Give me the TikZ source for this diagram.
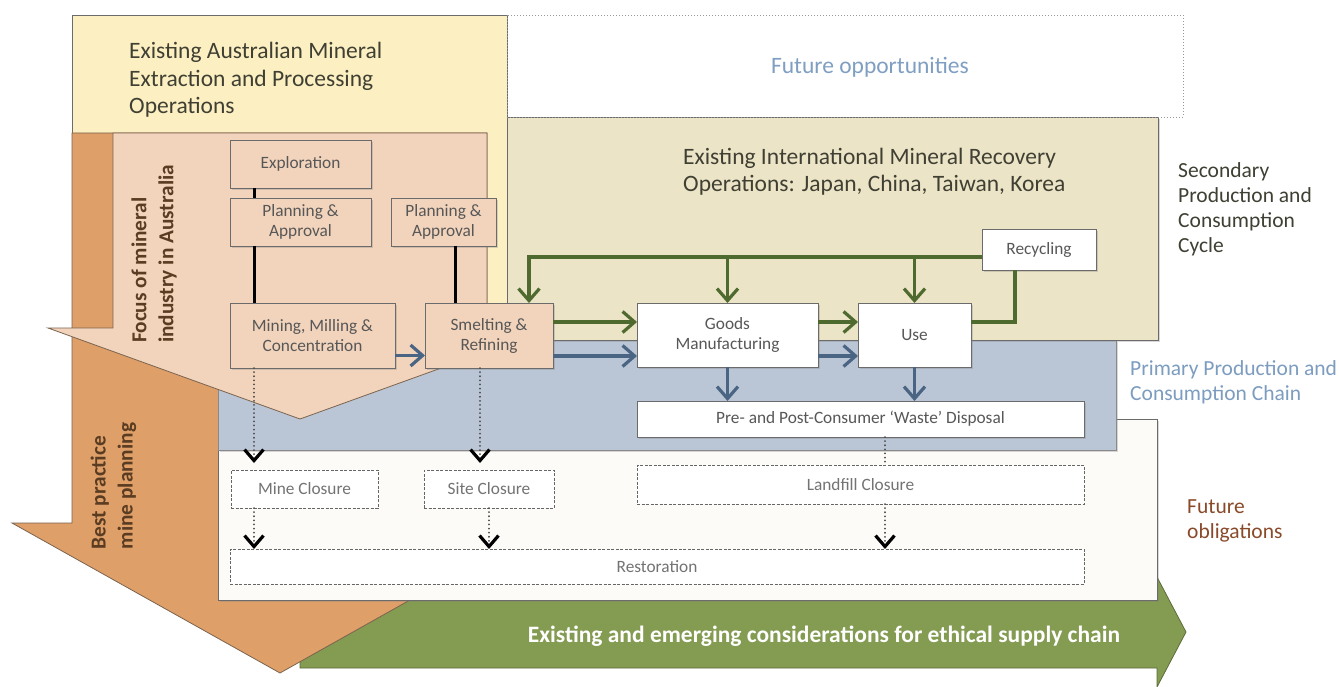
\documentclass[tikz,border=0pt]{standalone}
\usepackage{fontspec}
\setmainfont{Carlito}
\usetikzlibrary{arrows.meta,shadows,calc}
\definecolor{yel}{HTML}{FCF0C2}
\definecolor{tanbox}{HTML}{ECE4C6}
\definecolor{bluband}{HTML}{BAC6D5}
\definecolor{lorange}{HTML}{F2D4BC}
\definecolor{dorange}{HTML}{DF9F68}
\definecolor{biggreen}{HTML}{849B52}
\definecolor{darkgreen}{HTML}{4E6A2E}
\definecolor{arrowblue}{HTML}{4A6583}
\definecolor{txtgrey}{HTML}{575757}
\definecolor{titlegrey}{HTML}{3F3F33}
\definecolor{opptxt}{HTML}{7F9FC2}
\definecolor{primtxt}{HTML}{7C9CC0}
\definecolor{obltxt}{HTML}{8A4A2A}
\definecolor{edge}{HTML}{6B6B6B}
\definecolor{browntxt}{HTML}{5A3C22}
\definecolor{obbox}{HTML}{FDFBF8}
\begin{document}
\begin{tikzpicture}[x=1pt,y=-1pt,
  shad/.style={drop shadow={shadow xshift=1.5pt,shadow yshift=-1.8pt,opacity=0.3}},
  box/.style={draw=edge, line width=0.8pt, fill=lorange, inner sep=0pt, outer sep=0pt,
    align=center, font=\fontsize{17.3}{20}\selectfont, text=txtgrey, shad},
  wbox/.style={box, fill=white},
  dbox/.style={draw=black!60, dash pattern=on 3pt off 1.5pt, line width=0.8pt, fill=white,
    inner sep=0pt, outer sep=0pt, align=center, font=\fontsize{17.3}{20}\selectfont, text=black!55},
  kline/.style={draw=black, line width=3pt},
  gline/.style={draw=darkgreen, line width=3.4pt},
  garrow/.style={gline, -{Straight Barb[length=12pt,width=21pt,line width=3.2pt]}},
  barrow/.style={draw=arrowblue, line width=3.4pt, -{Straight Barb[length=12pt,width=21pt,line width=3.2pt]}},
  dline/.style={draw=black!70, line width=1.9pt, line cap=round, dash pattern=on 0.1pt off 4pt},
  darrow/.style={dline, -{Straight Barb[length=11pt,width=19pt,line width=3.2pt,color=black]}},
  ttl/.style={inner sep=0pt, align=left, anchor=west, text=titlegrey, font=\fontsize{23.5}{27.5}\selectfont},
  side/.style={inner sep=0pt, align=left, anchor=west, font=\fontsize{21.5}{25.5}\selectfont}
]
\useasboundingbox (0,0) rectangle (1339,687);
\fill[white] (0,0) rectangle (1339,687);

% ethical supply chain arrow
\draw[fill=biggreen, draw=biggreen!70!black, line width=0.8pt]
  (300,596) -- (1157,596) -- (1157,577) -- (1186,632) -- (1157,687) -- (1157,668) -- (300,668) -- cycle;
\node[font=\bfseries\fontsize{23.5}{27}\selectfont, text=white, inner sep=0pt] (ethic) at (824,636)
  {Existing and emerging considerations for ethical supply chain};

% Australian operations
\draw[fill=yel, draw=edge, line width=0.8pt] (72,15) rectangle (507,340);

% best practice arrow
\draw[fill=dorange, draw=browntxt!80, line width=0.8pt]
  (72,133) -- (487,133) -- (487,523) -- (547,523) -- (280,673) -- (12,523) -- (72,523) -- cycle;
\node[rotate=90, align=left, inner sep=0pt, text=browntxt, font=\bfseries\fontsize{21.3}{27}\selectfont]
  (best) at (113.5,486) {Best practice\\mine planning};

% future obligations box
\draw[fill=obbox, draw=edge, line width=0.8pt, shad] (218,419) rectangle (1157,600);

% primary production band
\draw[fill=bluband, draw=edge!80, line width=0.8pt, shad] (218,340) rectangle (1116,450);

% international recovery box
\draw[fill=tanbox, draw=edge, line width=0.8pt, shad] (507,117) rectangle (1158,340);

% future opportunities box
\draw[draw=black!40, line width=0.8pt, dash pattern=on 1pt off 2pt] (507,15) rectangle (1183,117);
\node[inner sep=0pt, text=opptxt, font=\fontsize{23.5}{27}\selectfont] (opp) at (870,67) {Future opportunities};

% focus arrow
\draw[fill=lorange, draw=browntxt!80, line width=0.8pt]
  (113,133) -- (487,133) -- (487,328) -- (552,328) -- (300,419) -- (48,328) -- (113,328) -- cycle;
\node[rotate=90, align=left, inner sep=0pt, text=browntxt, font=\bfseries\fontsize{21.3}{27}\selectfont]
  (focus) at (154,254) {Focus of mineral\\industry in Australia};

% titles
\node[ttl] (austitle) at (129,80) {Existing Australian Mineral\\Extraction and Processing\\Operations};
\node[ttl] (inttitle) at (683,171.5) {Existing International Mineral Recovery\\Operations: Japan, China, Taiwan, Korea};

% side labels
\node[side, text=titlegrey, font=\fontsize{21.5}{25}\selectfont] (sec) at (1178,209.5) {Secondary\\Production and\\Consumption\\Cycle};
\node[side, text=primtxt] (prim) at (1130,382.5) {Primary Production and\\Consumption Chain};
\node[side, text=obltxt] (obl) at (1187,521) {Future\\obligations};

% process boxes
\node[box, minimum width=141pt, minimum height=48pt] (expl) at (300.5,164) {Exploration};
\node[box, minimum width=141pt, minimum height=48pt] (plan1) at (300.5,222) {Planning \&\\Approval};
\node[box, minimum width=105pt, minimum height=48pt] (plan2) at (443.5,222) {Planning \&\\Approval};
\node[box, minimum width=165pt, minimum height=65pt] (mining) at (312.5,335.5) {Mining, Milling \&\\Concentration};
\node[box, minimum width=128pt, minimum height=65pt] (smelt) at (489,335.5) {Smelting \&\\Refining};
\node[wbox, minimum width=181pt, minimum height=64pt] (goods) at (727.5,335) {Goods\\Manufacturing};
\node[wbox, minimum width=113pt, minimum height=64pt] (use) at (914.5,335) {Use};
\node[wbox, minimum width=114pt, minimum height=41pt] (recyc) at (1039,249.5) {Recycling};
\node[wbox, minimum width=447pt, minimum height=36pt] (waste) at (860.5,419) {Pre- and Post-Consumer `Waste' Disposal};

\node[dbox, minimum width=147pt, minimum height=38pt] (mclose) at (304.5,489) {Mine Closure};
\node[dbox, minimum width=130pt, minimum height=38pt] (sclose) at (489,489) {Site Closure};
\node[dbox, minimum width=447pt, minimum height=39pt] (lclose) at (860.5,484.5) {Landfill Closure};
\node[dbox, minimum width=854pt, minimum height=35pt] (restor) at (657,566.5) {Restoration};

% black connectors
\draw[kline] ([xshift=-46.5pt]expl.south) -- ([xshift=-46.5pt]plan1.north);
\draw[kline] ([xshift=-46.5pt]plan1.south) -- ([xshift=-46.5pt]plan1.south |- mining.north);
\draw[kline] ([xshift=11.5pt]plan2.south) -- ([xshift=11.5pt]plan2.south |- smelt.north);

% primary chain (blue)
\draw[barrow] ([yshift=-20pt]mining.east) -- ([yshift=-20pt]mining.east -| smelt.west);
\draw[barrow] ([yshift=-20.5pt]smelt.east) -- ([yshift=-20.5pt]smelt.east -| goods.west);
\draw[barrow] ([yshift=-21pt]goods.east) -- ([yshift=-21pt]goods.east -| use.west);
\draw[barrow] (goods.south) -- (goods.south |- waste.north);
\draw[barrow] (use.south) -- (use.south |- waste.north);

% secondary cycle (green)
\draw[garrow] ([yshift=13.5pt]smelt.east) -- ([yshift=13.5pt]smelt.east -| goods.west);
\draw[garrow] ([yshift=13pt]goods.east) -- ([yshift=13pt]goods.east -| use.west);
\coordinate (rl) at ([yshift=-7.5pt]recyc.west);
\draw[garrow] (rl) -| ([xshift=40pt]smelt.north);
\draw[garrow] (goods.north |- rl) -- (goods.north);
\draw[garrow] (use.north |- rl) -- (use.north);
\draw[gline] ([yshift=13pt]use.east) -| ([xshift=-24pt]recyc.south);

% closure (dotted)
\draw[darrow, shorten >=7pt] ([xshift=-58.5pt]mining.south) -- ([xshift=-58.5pt]mining.south |- mclose.north);
\draw[darrow, shorten >=7pt] ([xshift=-9pt]smelt.south) -- ([xshift=-9pt]smelt.south |- sclose.north);
\draw[darrow] ([xshift=-50.5pt]mclose.south) -- ([xshift=-50.5pt]mclose.south |- restor.north);
\draw[darrow] (sclose.south) -- (sclose.south |- restor.north);
\draw[dline] ([xshift=24.5pt]waste.south) -- ([xshift=24.5pt]waste.south |- lclose.north);
\draw[darrow] ([xshift=24.5pt]lclose.south) -- ([xshift=24.5pt]lclose.south |- restor.north);
\end{tikzpicture}
\end{document}
